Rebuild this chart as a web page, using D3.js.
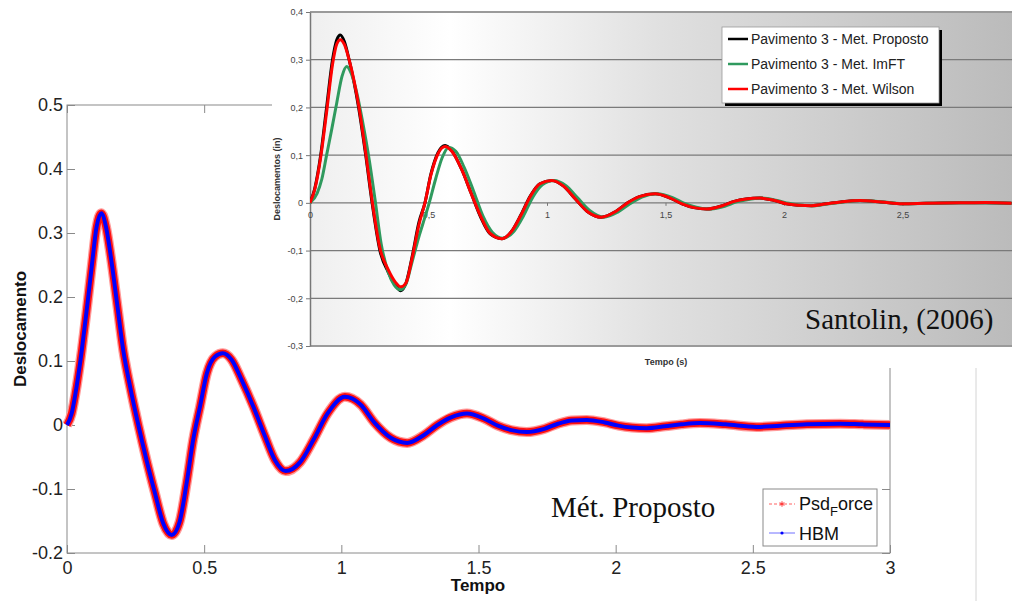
<!DOCTYPE html>
<html><head><meta charset="utf-8">
<script src="https://cdn.jsdelivr.net/npm/d3@7"></script>
<style>html,body{margin:0;padding:0;background:#fff;} svg{display:block;}</style>
</head><body>
<svg id="c" width="1012" height="601"></svg>
<script>
// ---------------- DATA ----------------
// Main chart (Mét. Proposto)
const mainTime = [0, 0.017, 0.035, 0.054, 0.072, 0.09, 0.108, 0.125, 0.142, 0.16, 0.181, 0.205, 0.23, 0.26, 0.29, 0.321, 0.351, 0.382, 0.41, 0.436, 0.46, 0.485, 0.51, 0.54, 0.568, 0.60, 0.637, 0.679, 0.722, 0.758, 0.797, 0.85, 0.90, 0.95, 1.013, 1.07, 1.12, 1.18, 1.24, 1.30, 1.35, 1.40, 1.458, 1.52, 1.57, 1.62, 1.676, 1.74, 1.79, 1.84, 1.895, 1.96, 2.01, 2.06, 2.113, 2.18, 2.24, 2.308, 2.40, 2.514, 2.60, 2.697, 2.818, 2.9, 3.0];
const mainPsdForce = [0, 0.018, 0.06, 0.117, 0.18, 0.247, 0.31, 0.331, 0.31, 0.262, 0.195, 0.117, 0.06, 0, -0.055, -0.107, -0.154, -0.172, -0.152, -0.091, -0.023, 0.029, 0.081, 0.107, 0.112, 0.102, 0.07, 0.029, -0.018, -0.055, -0.072, -0.058, -0.022, 0.018, 0.044, 0.032, 0.004, -0.020, -0.028, -0.016, 0, 0.012, 0.018, 0.010, -0.001, -0.008, -0.011, -0.006, 0.002, 0.007, 0.008, 0.004, -0.001, -0.004, -0.005, -0.002, 0.001, 0.003, 0.001, -0.003, -0.001, 0.001, 0.002, 0.001, 0];
const mainHBM = [0, 0.018, 0.06, 0.117, 0.18, 0.247, 0.31, 0.331, 0.31, 0.262, 0.195, 0.117, 0.06, 0, -0.055, -0.107, -0.154, -0.172, -0.152, -0.091, -0.023, 0.029, 0.081, 0.107, 0.112, 0.102, 0.07, 0.029, -0.018, -0.055, -0.072, -0.058, -0.022, 0.018, 0.044, 0.032, 0.004, -0.020, -0.028, -0.016, 0, 0.012, 0.018, 0.010, -0.001, -0.008, -0.011, -0.006, 0.002, 0.007, 0.008, 0.004, -0.001, -0.004, -0.005, -0.002, 0.001, 0.003, 0.001, -0.003, -0.001, 0.001, 0.002, 0.001, 0];
const mainXTicks = [0, 0.5, 1, 1.5, 2, 2.5, 3];
const mainXLabels = ["0", "0.5", "1", "1.5", "2", "2.5", "3"];
const mainYTicks = [-0.2, -0.1, 0, 0.1, 0.2, 0.3, 0.4, 0.5];
const mainYLabels = ["-0.2", "-0.1", "0", "0.1", "0.2", "0.3", "0.4", "0.5"];

// Inset chart (Santolin, 2006)
const insetTime = [0, 0.02, 0.045, 0.07, 0.095, 0.113, 0.128, 0.145, 0.165, 0.205, 0.235, 0.262, 0.295, 0.33, 0.36, 0.383, 0.405, 0.43, 0.46, 0.485, 0.51, 0.54, 0.57, 0.60, 0.64, 0.68, 0.72, 0.76, 0.809, 0.85, 0.89, 0.93, 0.97, 1.02, 1.07, 1.12, 1.17, 1.23, 1.29, 1.34, 1.39, 1.456, 1.52, 1.57, 1.62, 1.674, 1.74, 1.79, 1.84, 1.899, 1.96, 2.01, 2.06, 2.117, 2.18, 2.24, 2.32, 2.41, 2.50, 2.60, 2.74, 2.85, 2.96];
const insetProposto = [0, 0.03, 0.1, 0.2, 0.3, 0.342, 0.352, 0.338, 0.3, 0.2, 0.1, 0, -0.1, -0.145, -0.172, -0.184, -0.168, -0.115, -0.04, 0, 0.06, 0.105, 0.12, 0.108, 0.07, 0.02, -0.03, -0.065, -0.075, -0.06, -0.025, 0.015, 0.04, 0.047, 0.035, 0.008, -0.018, -0.030, -0.018, 0, 0.013, 0.019, 0.010, -0.002, -0.010, -0.013, -0.006, 0.003, 0.008, 0.010, 0.005, -0.002, -0.005, -0.006, -0.002, 0.002, 0.005, 0.002, -0.002, -0.001, 0, 0, -0.001];
const insetWilson = [0, 0.028, 0.095, 0.19, 0.29, 0.333, 0.342, 0.332, 0.3, 0.205, 0.105, 0.005, -0.095, -0.14, -0.166, -0.176, -0.168, -0.118, -0.045, 0, 0.058, 0.103, 0.118, 0.107, 0.07, 0.02, -0.028, -0.064, -0.075, -0.06, -0.026, 0.014, 0.04, 0.047, 0.035, 0.008, -0.018, -0.030, -0.018, 0, 0.013, 0.019, 0.010, -0.002, -0.010, -0.013, -0.006, 0.003, 0.008, 0.010, 0.005, -0.002, -0.005, -0.006, -0.002, 0.002, 0.005, 0.002, -0.002, -0.001, 0, 0.001, -0.001];
const imftTime = [0, 0.03, 0.05, 0.07, 0.092, 0.113, 0.135, 0.155, 0.175, 0.2, 0.222, 0.25, 0.275, 0.3, 0.33, 0.355, 0.38, 0.405, 0.43, 0.46, 0.485, 0.503, 0.53, 0.558, 0.585, 0.615, 0.65, 0.69, 0.73, 0.77, 0.815, 0.86, 0.90, 0.94, 0.98, 1.03, 1.08, 1.13, 1.18, 1.24, 1.30, 1.35, 1.40, 1.465, 1.53, 1.58, 1.63, 1.68, 1.75, 1.80, 1.85, 1.905, 1.97, 2.02, 2.07, 2.12, 2.19, 2.25, 2.33, 2.42, 2.51, 2.61, 2.75, 2.86, 2.96];
const insetImFT = [0, 0.02, 0.05, 0.1, 0.155, 0.21, 0.265, 0.286, 0.27, 0.225, 0.17, 0.09, 0.005, -0.085, -0.145, -0.172, -0.182, -0.17, -0.125, -0.07, -0.03, 0, 0.05, 0.095, 0.116, 0.108, 0.075, 0.025, -0.028, -0.062, -0.074, -0.06, -0.028, 0.012, 0.038, 0.047, 0.036, 0.010, -0.016, -0.030, -0.019, -0.002, 0.012, 0.019, 0.011, -0.001, -0.009, -0.013, -0.007, 0.002, 0.007, 0.010, 0.005, -0.001, -0.005, -0.006, -0.002, 0.002, 0.005, 0.002, -0.002, -0.001, 0, 0, -0.001];
const insetXTicks = [0, 0.5, 1, 1.5, 2, 2.5];
const insetXLabels = ["0", "0,5", "1", "1,5", "2", "2,5"];
const insetYTicks = [-0.3, -0.2, -0.1, 0, 0.1, 0.2, 0.3, 0.4];
const insetYLabels = ["-0,3", "-0,2", "-0,1", "0", "0,1", "0,2", "0,3", "0,4"];
const insetLegend = ["Pavimento 3 - Met. Proposto", "Pavimento 3 - Met. ImFT", "Pavimento 3 - Met. Wilson"];

// ---------------- DRAW ----------------
const svg = d3.select("#c");
const sans = "'Liberation Sans', Arial, Helvetica, sans-serif";
const serif = "'Liberation Serif', 'Times New Roman', serif";

// ===== Main chart =====
const mx = d3.scaleLinear().domain([0, 3]).range([67, 890]);
const my = d3.scaleLinear().domain([-0.2, 0.5]).range([553, 105]);
const main = svg.append("g");

main.append("rect").attr("x", 67).attr("y", 105).attr("width", 823).attr("height", 448)
  .attr("fill", "none").attr("stroke", "#8a8a8a").attr("stroke-width", 1);

function styleAxis(g, fs) {
  g.select(".domain").remove();
  g.selectAll(".tick line").attr("stroke", "#8a8a8a");
  g.selectAll(".tick text").attr("fill", "#222").style("font-family", sans).style("font-size", fs + "px");
}
main.append("g").attr("transform", "translate(0,553)")
  .call(d3.axisBottom(mx).tickValues(mainXTicks).tickFormat((d, i) => mainXLabels[i]).tickSize(-8).tickPadding(8))
  .call(g => styleAxis(g, 18));
main.append("g").attr("transform", "translate(67,0)")
  .call(d3.axisLeft(my).tickValues(mainYTicks).tickFormat((d, i) => mainYLabels[i]).tickSize(-8).tickPadding(4))
  .call(g => styleAxis(g, 18));
main.append("g").attr("transform", "translate(0,105)")
  .call(d3.axisTop(mx).tickValues(mainXTicks).tickFormat("").tickSize(-8))
  .call(g => styleAxis(g, 18));
main.append("g").attr("transform", "translate(890,0)")
  .call(d3.axisRight(my).tickValues(mainYTicks).tickFormat("").tickSize(-8))
  .call(g => styleAxis(g, 18));

const mline = d3.line().x(d => mx(d[0])).y(d => my(d[1])).curve(d3.curveMonotoneX);
const psdData = mainTime.map((t, i) => [t, mainPsdForce[i]]);
const hbmData = mainTime.map((t, i) => [t, mainHBM[i]]);
main.append("path").attr("d", mline(psdData)).attr("fill", "none").attr("stroke", "#ff9a9a").attr("stroke-width", 10).attr("stroke-linejoin", "round");
main.append("path").attr("d", mline(psdData)).attr("fill", "none").attr("stroke", "#ff1010").attr("stroke-width", 7.5).attr("stroke-linejoin", "round");
main.append("path").attr("d", mline(hbmData)).attr("fill", "none").attr("stroke", "#0000ff").attr("stroke-width", 4).attr("stroke-linejoin", "round");

main.append("text").attr("transform", "translate(26,329) rotate(-90)").attr("text-anchor", "middle")
  .style("font-family", sans).style("font-size", "17px").style("font-weight", "bold").attr("fill", "#111").text("Deslocamento");
main.append("text").attr("x", 478).attr("y", 591).attr("text-anchor", "middle")
  .style("font-family", sans).style("font-size", "17px").style("font-weight", "bold").attr("fill", "#111").text("Tempo");

main.append("text").attr("x", 551).attr("y", 517)
  .style("font-family", serif).style("font-size", "29px").attr("fill", "#111").text("Mét. Proposto");

// main legend
const lg = main.append("g");
lg.append("rect").attr("x", 763).attr("y", 489).attr("width", 114).attr("height", 57).attr("fill", "#fff").attr("stroke", "#8a8a8a");
lg.append("line").attr("x1", 769).attr("x2", 795).attr("y1", 504).attr("y2", 504).attr("stroke", "#ff6060").attr("stroke-width", 1).attr("stroke-dasharray", "3,2");
lg.append("path").attr("d", d3.symbol(d3.symbolAsterisk || d3.symbolCross, 20)()).attr("transform", "translate(782,504)").attr("fill", "#ff3030").attr("stroke", "#ff3030").attr("stroke-width", 1);
const t1 = lg.append("text").attr("x", 799).attr("y", 510).style("font-family", sans).style("font-size", "18px").attr("fill", "#111");
t1.append("tspan").text("Psd");
t1.append("tspan").attr("dy", 6).style("font-size", "13px").text("F");
t1.append("tspan").attr("dy", -6).text("orce");
lg.append("line").attr("x1", 769).attr("x2", 795).attr("y1", 533).attr("y2", 533).attr("stroke", "#7070ff").attr("stroke-width", 1);
lg.append("circle").attr("cx", 782).attr("cy", 533).attr("r", 1.6).attr("fill", "#0000ff");
lg.append("text").attr("x", 799).attr("y", 540).style("font-family", sans).style("font-size", "18px").attr("fill", "#111").text("HBM");

svg.append("line").attr("x1", 976).attr("x2", 976).attr("y1", 368).attr("y2", 601).attr("stroke", "#d4d4d4");

// ===== Inset chart =====
const ix = d3.scaleLinear().domain([0, 2.5]).range([310, 902.5]);
const iy = d3.scaleLinear().domain([-0.3, 0.4]).range([346, 12]);
const inset = svg.append("g");
inset.append("rect").attr("x", 272).attr("y", 0).attr("width", 740).attr("height", 368).attr("fill", "#fff");

const defs = svg.append("defs");
const grad = defs.append("linearGradient").attr("id", "bg").attr("x1", "0").attr("x2", "1").attr("y1", "0").attr("y2", "0");
grad.append("stop").attr("offset", "0").attr("stop-color", "#efefef");
grad.append("stop").attr("offset", "0.2").attr("stop-color", "#ffffff");
grad.append("stop").attr("offset", "0.5").attr("stop-color", "#e0e0e0");
grad.append("stop").attr("offset", "1").attr("stop-color", "#bbbbbb");
defs.append("clipPath").attr("id", "clipI").append("rect").attr("x", 310).attr("y", 0).attr("width", 702).attr("height", 346);

inset.append("rect").attr("x", 310).attr("y", 12).attr("width", 702).attr("height", 334).attr("fill", "url(#bg)");

// gridlines
inset.append("g").selectAll("line").data(insetYTicks).join("line")
  .attr("x1", 310).attr("x2", 1012).attr("y1", d => iy(d)).attr("y2", d => iy(d))
  .attr("stroke", (d, i) => (i === 0 || i === insetYTicks.length - 1) ? "#9a9a9a" : "#7a7a7a")
  .attr("stroke-width", (d, i) => (i === 0 || i === insetYTicks.length - 1) ? 2 : 1.2);

// y axis
inset.append("g").attr("transform", "translate(310,0)")
  .call(d3.axisLeft(iy).tickValues(insetYTicks).tickFormat((d, i) => insetYLabels[i]).tickSize(4).tickPadding(3).tickSizeOuter(0))
  .call(g => {
    g.select(".domain").attr("stroke", "#777").attr("stroke-width", 1.5);
    g.selectAll(".tick line").attr("stroke", "#777");
    g.selectAll(".tick text").attr("fill", "#444").style("font-family", sans).style("font-size", "9px");
  });
// x axis (on zero line)
inset.append("g").attr("transform", "translate(0," + iy(0) + ")")
  .call(d3.axisBottom(ix).tickValues(insetXTicks).tickFormat((d, i) => insetXLabels[i]).tickSize(3).tickPadding(6).tickSizeOuter(0))
  .call(g => {
    g.select(".domain").remove();
    g.selectAll(".tick line").attr("stroke", "#777");
    g.selectAll(".tick text").attr("fill", "#444").style("font-family", sans).style("font-size", "9px");
  });

const iline = d3.line().x(d => ix(d[0])).y(d => iy(d[1])).curve(d3.curveMonotoneX);
const curves = inset.append("g").attr("clip-path", "url(#clipI)");
curves.append("path").attr("d", iline(insetTime.map((t, i) => [t, insetProposto[i]])))
  .attr("fill", "none").attr("stroke", "#000").attr("stroke-width", 3).attr("stroke-linejoin", "round");
curves.append("path").attr("d", iline(imftTime.map((t, i) => [t, insetImFT[i]])))
  .attr("fill", "none").attr("stroke", "#2f9a5e").attr("stroke-width", 3).attr("stroke-linejoin", "round");
curves.append("path").attr("d", iline(insetTime.map((t, i) => [t, insetWilson[i]])))
  .attr("fill", "none").attr("stroke", "#ff0000").attr("stroke-width", 3).attr("stroke-linejoin", "round");

inset.append("text").attr("transform", "translate(280,179) rotate(-90)").attr("text-anchor", "middle")
  .style("font-family", sans).style("font-size", "9px").style("font-weight", "bold").attr("fill", "#333").text("Deslocamentos (in)");
inset.append("text").attr("x", 666).attr("y", 365).attr("text-anchor", "middle")
  .style("font-family", sans).style("font-size", "9px").style("font-weight", "bold").attr("fill", "#333").text("Tempo (s)");

// inset legend
const il = inset.append("g");
il.append("rect").attr("x", 725).attr("y", 30).attr("width", 217).attr("height", 76).attr("fill", "#000");
il.append("rect").attr("x", 722).attr("y", 27).attr("width", 217).attr("height", 76).attr("fill", "#fff").attr("stroke", "#999").attr("stroke-width", 0.8);
const lcol = ["#000", "#2f9a5e", "#ff0000"];
insetLegend.forEach((name, i) => {
  const y = 39 + i * 25;
  il.append("line").attr("x1", 728).attr("x2", 748).attr("y1", y).attr("y2", y).attr("stroke", lcol[i]).attr("stroke-width", 2.5);
  il.append("text").attr("x", 751).attr("y", y + 5).style("font-family", sans).style("font-size", "14px").attr("fill", "#222").text(name);
});

inset.append("text").attr("x", 805).attr("y", 329)
  .style("font-family", serif).style("font-size", "29px").attr("fill", "#111").text("Santolin, (2006)");
</script>
</body></html>
